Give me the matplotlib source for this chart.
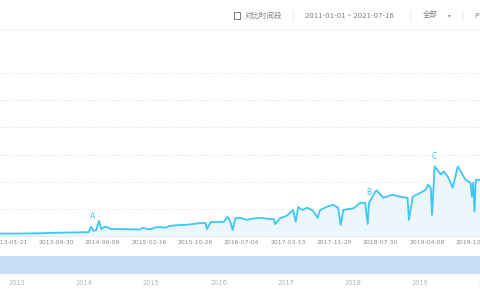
import numpy as np
import pandas as pd
import matplotlib
matplotlib.use("Agg")
import matplotlib.pyplot as plt
from matplotlib.patches import Rectangle

plt.rcParams['font.family'] = ['Noto Sans CJK SC', 'DejaVu Sans']

# data (weekly index, units arbitrary)
dates = ['2012-11-26', '2013-03-18', '2013-07-01', '2013-09-23', '2013-12-16', '2014-03-24',
         '2014-04-07', '2014-04-21', '2014-05-05', '2014-05-19', '2014-06-02', '2014-06-16',
         '2014-06-30', '2014-07-21', '2014-10-06', '2014-12-29', '2015-01-12', '2015-02-09',
         '2015-03-02', '2015-03-30', '2015-05-18', '2015-06-08', '2015-07-20', '2015-08-31',
         '2015-10-12', '2015-11-23', '2015-12-21', '2015-12-28', '2016-01-18', '2016-02-29',
         '2016-03-28', '2016-04-18', '2016-05-02', '2016-05-16', '2016-05-30', '2016-06-27',
         '2016-08-01', '2016-08-22', '2016-10-10', '2016-11-28', '2016-12-26', '2017-01-02',
         '2017-01-30', '2017-03-06', '2017-04-10', '2017-04-24', '2017-05-08', '2017-05-29',
         '2017-06-26', '2017-07-10', '2017-07-31', '2017-08-21', '2017-09-04', '2017-10-09',
         '2017-11-13', '2017-12-11', '2017-12-25', '2018-01-08', '2018-03-05', '2018-04-09',
         '2018-05-07', '2018-05-21', '2018-05-28', '2018-07-02', '2018-07-09', '2018-07-30',
         '2018-08-13', '2018-09-03', '2018-10-01', '2018-11-12', '2018-12-24', '2018-12-31',
         '2019-01-21', '2019-03-04', '2019-04-01', '2019-04-15', '2019-04-29', '2019-05-06',
         '2019-05-20', '2019-06-24', '2019-07-08', '2019-07-29', '2019-08-12', '2019-08-26',
         '2019-09-02', '2019-09-23', '2019-10-14', '2019-11-04', '2019-12-02', '2019-12-09',
         '2019-12-16', '2019-12-23', '2019-12-30', '2020-01-06', '2020-01-20', '2020-02-24']
values = [90, 90, 100, 120, 130, 140, 340, 190, 220, 560, 250, 330,
          340, 260, 250, 240, 310, 250, 260, 330, 310, 370, 400, 410,
          440, 480, 480, 260, 520, 520, 520, 710, 560, 220, 650, 670,
          590, 630, 670, 630, 630, 440, 660, 740, 960, 530, 1070, 960,
          1040, 1000, 900, 670, 960, 1070, 1150, 1040, 410, 960, 1020, 1220,
          1220, 440, 1220, 1640, 1680, 1520, 1410, 1450, 1520, 1450, 1400, 590,
          1450, 1590, 1700, 1890, 1780, 780, 2560, 2260, 2380, 2200, 2010, 1780,
          1960, 2560, 2320, 2070, 1960, 1450, 1960, 900, 2070, 2070, 2070, 2100]

# event markers
mark_labels = ['A', 'B', 'C']
mark_dates = ['2014-04-14', '2018-05-28', '2019-05-20']
mark_values = [560, 1420, 2750]

tick_dates = ['2013-01-21', '2013-09-30', '2014-06-09', '2015-02-16', '2015-10-26', '2016-07-04',
              '2017-03-13', '2017-11-20', '2018-07-30', '2019-04-08', '2019-12-16']
years = ['2013', '2014', '2015', '2016', '2017', '2018', '2019', '2020']

x = pd.to_datetime(dates)
xmin, xmax = pd.Timestamp('2012-11-27'), pd.Timestamp('2020-01-22')

line_c = '#3ec6f4'
fig = plt.figure(figsize=(4.8, 3.0), dpi=100)

# main chart
ax = fig.add_axes([0, 1 - 236 / 300, 1, (236 - 73) / 300])
ax.fill_between(x, values, 0, color='#ebf7fd', lw=0)
ax.plot(x, values, color=line_c, lw=1.3)
for lab, d, v in zip(mark_labels, mark_dates, mark_values):
    ax.text(pd.Timestamp(d), v, lab, color=line_c, fontsize=5.5, ha='center', va='bottom',
            family='DejaVu Sans')
ax.set_xlim(xmin, xmax)
ax.set_ylim(0, 6000)
ax.set_yticks(np.arange(1000, 6001, 1000))
ax.yaxis.grid(True, color='#ececec', ls=(0, (3, 2)), lw=0.7)
ax.set_yticklabels([])
ax.tick_params(axis='y', length=0)
ax.set_xticks(pd.to_datetime(tick_dates))
ax.set_xticklabels(tick_dates, fontsize=4.4, color='#8c8c8c', family='DejaVu Sans')
ax.tick_params(axis='x', length=0, pad=3)
for s in ['top', 'left', 'right']:
    ax.spines[s].set_visible(False)
ax.spines['bottom'].set_color('#e6e6e6')
ax.spines['bottom'].set_linewidth(0.6)

# slider band
sl = fig.add_axes([0, 1 - 274 / 300, 1, 18 / 300])
sl.axvspan(xmin, xmax, color='#c8dcf8', lw=0)
sl.set_xlim(xmin, xmax)
sl.set_ylim(0, 1)
sl.axis('off')
for yr in years:
    sl.text(pd.Timestamp(yr + '-01-14'), -0.5, yr, fontsize=4.8, color='#b5b5b5',
            ha='left', va='center', family='DejaVu Sans')

# header bar
fig.add_artist(plt.Line2D([0, 1], [1 - 29 / 300] * 2, color='#f0f0f0', lw=0.8))
fig.add_artist(Rectangle((234 / 480, 1 - 18.5 / 300), 6 / 480, 6 / 300, fill=False,
                         ec='#666666', lw=0.6))
ty = 1 - 15.5 / 300
fig.text(245 / 480, ty, '对比时间段', fontsize=5.4, color='#808080', va='center')
fig.text(305 / 480, ty, '2011-01-01 ~ 2021-07-16', fontsize=5.6, color='#808080', va='center')
fig.text(423 / 480, ty, '全部', fontsize=5.4, color='#808080', va='center')
fig.text(448 / 480, ty, '▾', fontsize=4.5, color='#999999', va='center', family='DejaVu Sans')
fig.text(474 / 480, ty, 'P', fontsize=5.6, color='#808080', va='center')
for sx in [293, 410, 462]:
    fig.add_artist(plt.Line2D([sx / 480] * 2, [1 - 20 / 300, 1 - 11 / 300], color='#e8e8e8', lw=0.6))

fig.savefig('out.png', dpi=100, facecolor='white')
